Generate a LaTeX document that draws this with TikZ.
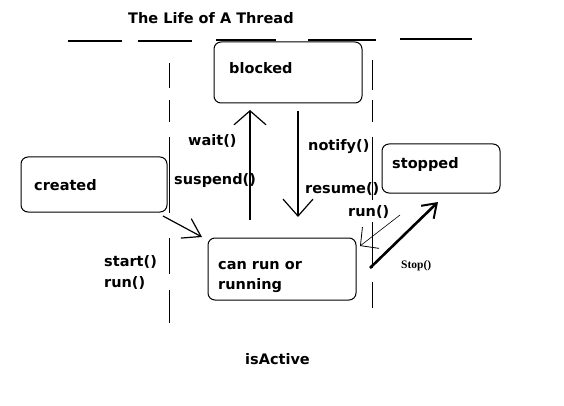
\documentclass[tikz,border=0pt]{standalone}
\usepackage{fontspec}
\setmainfont{DejaVu Sans}
\newfontfamily\serifsmall{Liberation Serif}
\usetikzlibrary{arrows.meta}
\tikzset{
  lbl/.style={anchor=base west, inner sep=0pt, font=\fontsize{14.5}{16}\selectfont\bfseries},
  statebox/.style={draw, line width=1pt, rounded corners=7pt, inner sep=0pt},
  sep/.style={line width=1pt},
  topdash/.style={line width=2.5pt},
  conn/.style={line width=1.4pt},
}
\begin{document}
\begin{tikzpicture}[x=1pt,y=-1pt]
\useasboundingbox (0,0) rectangle (564,406);
% title
\node[lbl] (title) at (128,24) {The Life of A Thread};
% top dashes
\foreach \a/\b/\y in {68/122/41, 138/192/41, 216/276/40, 308/376/40, 400/472/39}
  \draw[topdash] (\a,\y) -- (\b,\y);
% separator lines
\foreach \a/\b in {63/88, 100/122, 137/213, 238/274, 290/323}
  \draw[sep] (169,\a) -- (169,\b);
\foreach \a/\b in {60/90, 100/122, 137/200, 222/268, 282/308}
  \draw[sep] (372,\a) -- (372,\b);
% boxes
\node[statebox, minimum width=148pt, minimum height=61pt] (blocked) at (288,72.5) {};
\node[statebox, minimum width=146pt, minimum height=55pt] (created) at (94,184.5) {};
\node[statebox, minimum width=148pt, minimum height=62pt] (canrun) at (282,269) {};
\node[statebox, minimum width=118pt, minimum height=49pt] (stopped) at (441,168.5) {};
% box texts
\node[lbl] (tblocked) at (229,74) {blocked};
\node[lbl] (tcreated) at (34,190) {created};
\node[lbl] (tcanrun) at (218,269) {can run or};
\node[lbl] (trunning) at (218,289) {running};
\node[lbl] (tstopped) at (392,168) {stopped};
% labels
\node[lbl] (lwait) at (188,146) {wait()};
\node[lbl] (lsusp) at (174,184) {suspend()};
\node[lbl] (lnotify) at (308,151) {notify()};
\node[lbl] (lresume) at (305,193) {resume()};
\node[lbl] (lrun) at (348,216) {run()};
\node[lbl] (lstart) at (104,266) {start()};
\node[lbl] (lrun2) at (104,287) {run()};
\node[lbl] (lactive) at (245,364) {isActive};
\node[anchor=base west, inner sep=0pt, font=\serifsmall\bfseries\fontsize{11.5}{14}\selectfont] (lstop) at (401,268) {Stop()};
% connector end points
\coordinate (w0) at (250,220);
\coordinate (w1) at (250,110);
\coordinate (n0) at (298,111);
\coordinate (n1) at (298,217);
\coordinate (c0) at (163,216);
\coordinate (c1) at (202,237);
\coordinate (s0) at (370,268);
\coordinate (s1) at (438,202);
\coordinate (r0) at (400,215);
\coordinate (r1) at (360,246);
% connectors
\draw[conn, -{Straight Barb[length=14pt, width=32pt, line width=1.2pt]}] (w0) -- (w1);
\draw[conn, -{Straight Barb[length=17pt, width=30pt, line width=1.2pt]}] (n0) -- (n1);
\draw[line width=1.2pt, -{Straight Barb[length=17pt, width=22pt, line width=1.2pt]}] (c0) -- (c1);
\draw[line width=2.6pt, -{Straight Barb[length=13pt, width=18pt, line width=2pt]}] (s0) -- (s1);
\draw[line width=0.6pt, -{Straight Barb[length=13pt, width=27pt, line width=0.8pt]}] (r0) -- (r1);
\end{tikzpicture}
\end{document}
